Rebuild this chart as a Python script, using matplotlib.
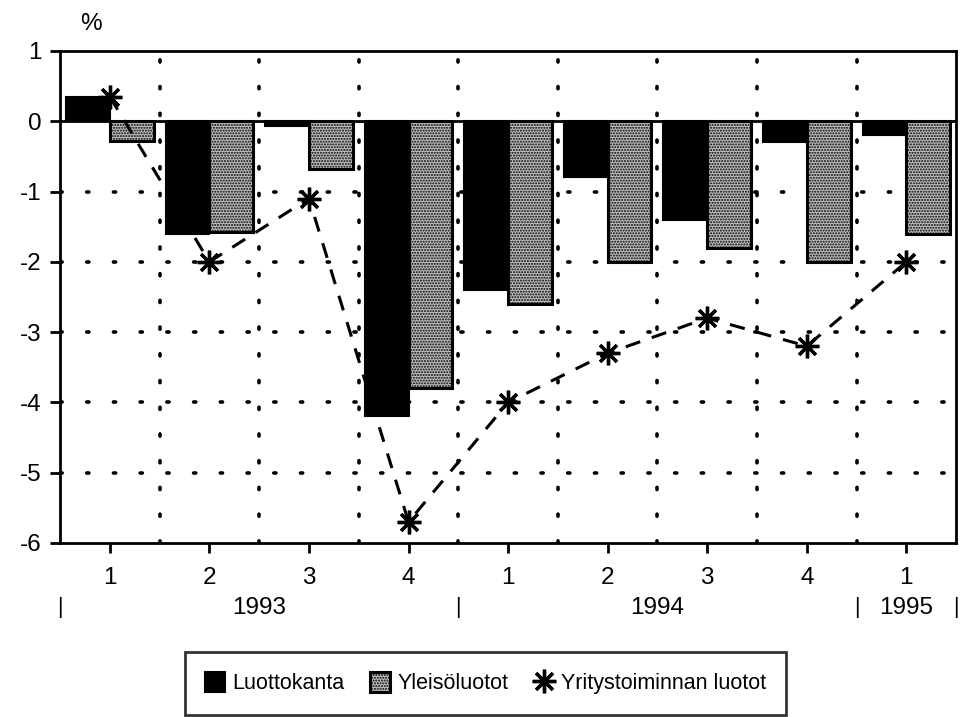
import numpy as np
import matplotlib.pyplot as plt
import matplotlib.transforms as mtransforms
from matplotlib.lines import Line2D

plt.rcParams['font.family'] = ['Liberation Sans', 'DejaVu Sans']
plt.rcParams['axes.unicode_minus'] = False
plt.rcParams['hatch.color'] = "#707070"
plt.rcParams['hatch.linewidth'] = 1.0

# ================= DATA =================
quarters = ["1", "2", "3", "4", "1", "2", "3", "4", "1"]
years = ["1993", "1994", "1995"]
luottokanta = [0.35, -1.6, -0.07, -4.2, -2.4, -0.8, -1.4, -0.3, -0.2]
yleisoluotot = [-0.28, -1.58, -0.68, -3.8, -2.6, -2.0, -1.8, -2.0, -1.6]
yritys = [0.35, -2.0, -1.1, -5.7, -4.0, -3.3, -2.8, -3.2, -2.0]

x = np.arange(1, len(quarters) + 1)
w = 0.44
fs = 17.5

fig = plt.figure(figsize=(9.6, 7.17), dpi=100)
ax = fig.add_axes([0.0625, 0.2427, 0.9335, 0.6862])

b1 = ax.bar(x - w / 2, luottokanta, w, color="black", edgecolor="black",
            linewidth=1.5, label="Luottokanta", zorder=3)
b2 = ax.bar(x + w / 2, yleisoluotot, w, color="#c0c0c0", edgecolor="black",
            linewidth=2.2, hatch="......", label="Yleisöluotot", zorder=3)
ax.plot(x, yritys, color="black", linestyle=(0, (5, 4)), linewidth=2.2,
        marker=(8, 2, 0), markersize=17, markeredgewidth=2.4, zorder=4)

ax.axhline(0, color="black", linewidth=2, zorder=3)

# grid
dots = dict(color="black", linestyle=(0, (0.6, 6.8)), linewidth=2.6,
            dash_capstyle="round", zorder=1)
for yv in range(-5, 0):
    ax.axhline(yv, **dots)
for xv in np.arange(1.5, len(quarters), 1.0):
    ax.axvline(xv, **dots)

ax.set_xlim(0.5, len(quarters) + 0.5)
ax.set_ylim(-6, 1)
ax.set_yticks(range(-6, 2))
ax.set_xticks(x)
ax.set_xticklabels(quarters)
ax.tick_params(axis="both", direction="out", length=7, width=2,
               labelsize=fs, pad=6)
ax.tick_params(axis="x", pad=10)
for s in ax.spines.values():
    s.set_linewidth(2)

ax.text(0.035, 1.055, "%", transform=ax.transAxes, fontsize=fs,
        ha="center", va="center")

# year labels and separators under the quarter labels
tr = mtransforms.blended_transform_factory(ax.transData, ax.transAxes)
year_pos = [2.5, 6.5, 9.0]
for xp, yr in zip(year_pos, years):
    ax.text(xp, -0.132, yr, transform=tr, ha="center", va="center", fontsize=fs)
for xs in [0.5, 4.5, 8.5, 9.5]:
    ax.text(xs, -0.132, "|", transform=tr, ha="center", va="center",
            fontsize=fs - 2)

star = Line2D([], [], color="black", linestyle="none", marker=(8, 2, 0),
              markersize=17, markeredgewidth=2.4)
leg = ax.legend([b1, b2, star],
                ["Luottokanta", "Yleisöluotot", "Yritystoiminnan luotot"],
                loc="upper center", bbox_to_anchor=(0.475, -0.2215), ncol=3,
                frameon=True, fancybox=False, edgecolor="black", fontsize=15.5,
                handlelength=0.9, handleheight=1.0, handletextpad=0.35,
                columnspacing=1.2, borderpad=0.95, borderaxespad=0)
leg.get_frame().set_linewidth(2)

fig.savefig("out.png", dpi=100)
